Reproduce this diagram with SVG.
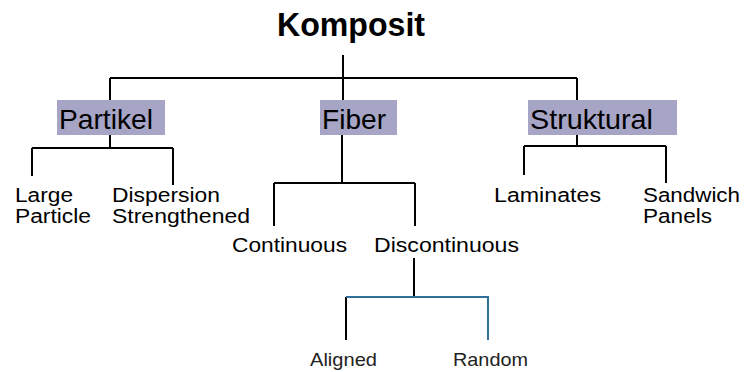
<svg xmlns="http://www.w3.org/2000/svg" width="744" height="372" viewBox="0 0 744 372">
<style>
.ln{stroke:#000;stroke-width:2;fill:none}
.bl{stroke:#2f6f9a;stroke-width:2;fill:none}
.box{fill:#a7a5c6}
text{font-family:"Liberation Sans",Arial,sans-serif;fill:#000}
.t1{font-size:33px;font-weight:bold}
.t2{font-size:28px}
.t3{font-size:20px}
.t4{font-size:19px;fill:#222}
</style>
<rect width="744" height="372" fill="#fff"/>
<g id="connectors">
<path class="ln" d="M343 55V78M110 78H577M110 78V100M343 78V100M577 78V100"/>
<path class="ln" d="M110 135V148M32 148H173M32 148V176M173 148V185"/>
<path class="ln" d="M342 135V183M274 183H415M274 183V226M415 183V226"/>
<path class="ln" d="M577 135V146M524 146H666M524 146V175M666 146V183"/>
<path class="ln" d="M414 258V297M346 297V340"/>
<path class="bl" d="M346 297H488V340"/>
</g>
<g id="komposit"><text class="t1" x="277" y="36" textLength="148" lengthAdjust="spacingAndGlyphs">Komposit</text></g>
<g id="partikel"><rect class="box" x="57" y="100" width="108" height="35"/><text class="t2" x="59" y="129" textLength="94" lengthAdjust="spacingAndGlyphs">Partikel</text></g>
<g id="fiber"><rect class="box" x="320" y="100" width="77" height="35"/><text class="t2" x="322" y="129" textLength="64" lengthAdjust="spacingAndGlyphs">Fiber</text></g>
<g id="struktural"><rect class="box" x="528" y="100" width="149" height="35"/><text class="t2" x="530" y="129" textLength="123" lengthAdjust="spacingAndGlyphs">Struktural</text></g>
<g id="large-particle"><text class="t3" x="15" y="202" textLength="58" lengthAdjust="spacingAndGlyphs">Large</text><text class="t3" x="15" y="223" textLength="76" lengthAdjust="spacingAndGlyphs">Particle</text></g>
<g id="dispersion"><text class="t3" x="112" y="202" textLength="108" lengthAdjust="spacingAndGlyphs">Dispersion</text><text class="t3" x="112" y="223" textLength="138" lengthAdjust="spacingAndGlyphs">Strengthened</text></g>
<g id="continuous"><text class="t3" x="232" y="252" textLength="115" lengthAdjust="spacingAndGlyphs">Continuous</text></g>
<g id="discontinuous"><text class="t3" x="374" y="252" textLength="145" lengthAdjust="spacingAndGlyphs">Discontinuous</text></g>
<g id="laminates"><text class="t3" x="494" y="202" textLength="107" lengthAdjust="spacingAndGlyphs">Laminates</text></g>
<g id="sandwich"><text class="t3" x="643" y="202" textLength="97" lengthAdjust="spacingAndGlyphs">Sandwich</text><text class="t3" x="643" y="223" textLength="69" lengthAdjust="spacingAndGlyphs">Panels</text></g>
<g id="aligned"><text class="t4" x="310" y="366" textLength="67" lengthAdjust="spacingAndGlyphs">Aligned</text></g>
<g id="random"><text class="t4" x="453" y="366" textLength="75" lengthAdjust="spacingAndGlyphs">Random</text></g>
</svg>
